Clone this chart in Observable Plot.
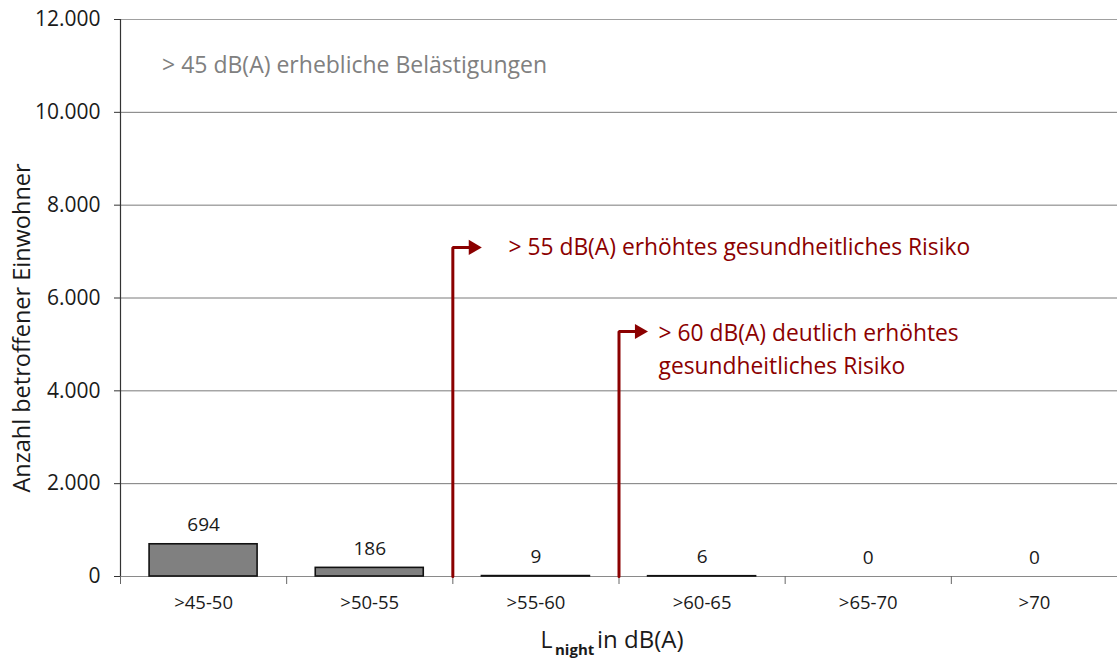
<!DOCTYPE html>
<html><head><meta charset="utf-8">
<script src="https://cdn.jsdelivr.net/npm/d3@7"></script>
<script src="https://cdn.jsdelivr.net/npm/@observablehq/plot@0.6"></script>
<style>body{margin:0;background:#fff} svg{display:block}</style>
</head><body><div id="chart"></div>
<script>
// ---- data ----
const categories = [">45-50", ">50-55", ">55-60", ">60-65", ">65-70", ">70"];
const values = [694, 186, 9, 6, 0, 0];
const yTicks = [0, 2000, 4000, 6000, 8000, 10000, 12000];
const yTitle = "Anzahl betroffener Einwohner";
const noteGray = "> 45 dB(A) erhebliche Belästigungen";
const note55 = "> 55 dB(A) erhöhtes gesundheitliches Risiko";
const note60 = "> 60 dB(A) deutlich erhöhtes\ngesundheitliches Risiko";
// arrow anchors: band boundary index and level (Einwohner)
const arrowBoundary = [2, 3];
const arrowLevel = [7090, 5280];

const table = categories.map((c, i) => ({i, cat: c, value: values[i]}));
const de = d3.formatLocale({decimal: ",", thousands: ".", grouping: [3], currency: ["", "€"]});
const fmt = de.format(",.0f");
const red = "#8b0000";
const font = "Open Sans";

const paths = arrowBoundary.flatMap((b, k) => [
  {k, x: b, y: 0},
  {k, x: b, y: arrowLevel[k]},
  {k, x: b + 0.122, y: arrowLevel[k]}
]);
const heads = arrowBoundary.map((b, k) => ({x: b + 0.122, y: arrowLevel[k]}));

const chart = Plot.plot({
  width: 1117,
  height: 666,
  marginLeft: 120,
  marginRight: 0,
  marginTop: 19,
  marginBottom: 90,
  style: {fontFamily: font, background: "#fff", color: "#1a1a1a"},
  x: {type: "linear", domain: [0, categories.length]},
  y: {domain: [0, 12000]},
  marks: [
    Plot.ruleY(yTicks.filter(t => t > 0 && t < 12000), {stroke: "#7a7a7a", strokeWidth: 1}),
    Plot.ruleY([12000], {stroke: "#a0a0a0", strokeWidth: 1.2}),
    Plot.ruleY([0], {stroke: "#8a8a8a", strokeWidth: 1.2}),
    Plot.axisY({ticks: yTicks, tickFormat: fmt, tickSize: 6, tickPadding: 14, fontSize: 21, label: null, stroke: "#333"}),
    Plot.ruleX([0], {stroke: "#333", strokeWidth: 1.2}),
    Plot.axisX({ticks: d3.range(0, categories.length + 1), tickFormat: () => "", tickSize: 8, stroke: "#666", label: null}),
    Plot.axisX({ticks: categories.map((c, i) => i + 0.5), tickFormat: d => categories[Math.floor(d)], tickSize: 0, tickPadding: 19, fontSize: 18.5, label: null}),
    Plot.rectY(table, {x1: d => d.i + 0.175, x2: d => d.i + 0.825, y: "value", fill: "#808080", stroke: "#111", strokeWidth: 1.6}),
    Plot.text(table, {x: d => d.i + 0.5, y: "value", text: d => fmt(d.value), dy: -19, fontSize: 19, fill: "#1a1a1a"}),
    Plot.line(paths, {x: "x", y: "y", z: "k", stroke: red, strokeWidth: 3, strokeLinejoin: "miter", curve: "linear"}),
    Plot.dot(heads, {x: "x", y: "y", symbol: "triangle", rotate: 90, r: 5.6, fill: red, stroke: "none"}),
    Plot.text([noteGray], {x: 0.25, y: 11000, text: d => d, textAnchor: "start", fontSize: 23, fill: "#808080"}),
    Plot.text([note55], {x: 2.335, y: arrowLevel[0], text: d => d, textAnchor: "start", fontSize: 22.8, fill: red}),
    Plot.text([note60], {x: 3.238, y: arrowLevel[1], text: d => d, textAnchor: "start", lineAnchor: "top", dy: -14, lineHeight: 1.45, fontSize: 22.8, fill: red}),
    Plot.text([yTitle], {frameAnchor: "left", textAnchor: "middle", rotate: -90, dx: -98, dy: 30, text: d => d, fontSize: 23.5, fill: "#1a1a1a"}),
    Plot.text(["L"], {frameAnchor: "bottom", dx: -78.5, dy: 71, text: d => d, textAnchor: "start", fontSize: 23, fill: "#1a1a1a"}),
    Plot.text(["night"], {frameAnchor: "bottom", dx: -64, dy: 78, text: d => d, textAnchor: "start", fontSize: 15, fontWeight: "bold", fill: "#1a1a1a"}),
    Plot.text(["in dB(A)"], {frameAnchor: "bottom", dx: -22, dy: 71, text: d => d, textAnchor: "start", fontSize: 24, fill: "#1a1a1a"})
  ]
});
document.getElementById("chart").appendChild(chart);
</script>
</body></html>
